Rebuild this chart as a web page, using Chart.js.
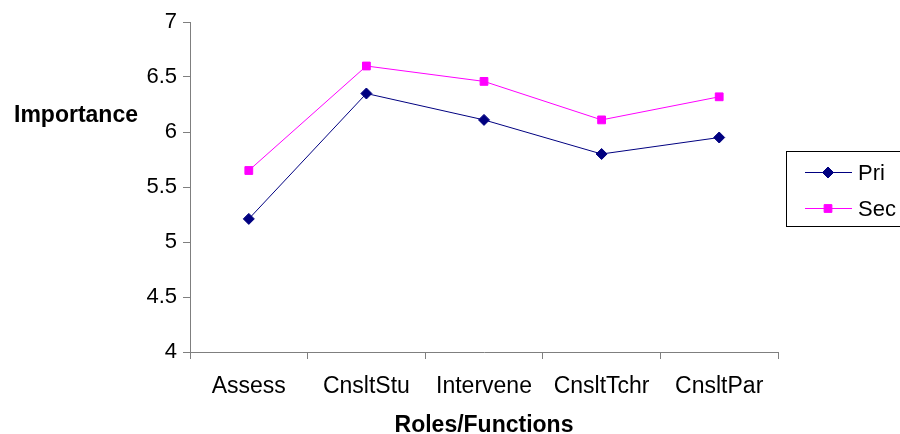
<!DOCTYPE html>
<html>
<head>
<meta charset="utf-8">
<script src="https://cdn.jsdelivr.net/npm/chart.js@4.4.1/dist/chart.umd.min.js"></script>
<style>
  html, body { margin: 0; padding: 0; background: #fff; }
  #wrap { width: 900px; height: 434px; }
</style>
</head>
<body>
<div id="wrap"><canvas id="roleChart" width="900" height="434"></canvas></div>
<script>
// Chart data
const categories = ['Assess', 'CnsltStu', 'Intervene', 'CnsltTchr', 'CnsltPar'];
const priValues = [5.21, 6.35, 6.11, 5.80, 5.95];
const secValues = [5.65, 6.60, 6.46, 6.11, 6.32];
const yTicks = [4, 4.5, 5, 5.5, 6, 6.5, 7];

const axisGray = '#7f7f7f';
const fontFamily = 'Arial, "Liberation Sans", sans-serif';

// Horizontal y-axis title drawn beside the axis
const sideTitle = {
    id: 'sideTitle',
    afterDraw(chart) {
        const ctx = chart.ctx;
        ctx.save();
        ctx.fillStyle = '#000';
        ctx.font = 'bold 23px ' + fontFamily;
        ctx.textAlign = 'center';
        ctx.textBaseline = 'middle';
        ctx.fillText('Importance', 76, 116);
        ctx.restore();
    }
};

// Boxed legend at the right edge
const boxLegend = {
    id: 'boxLegend',
    afterDraw(chart) {
        const ctx = chart.ctx;
        ctx.save();
        ctx.lineWidth = 1;
        ctx.strokeStyle = '#000';
        ctx.strokeRect(786.5, 151.5, 120, 75);
        chart.data.datasets.forEach((ds, i) => {
            const y = 172.5 + i * 36;
            ctx.strokeStyle = ds.borderColor;
            ctx.beginPath();
            ctx.moveTo(805, y);
            ctx.lineTo(852, y);
            ctx.stroke();
            ctx.fillStyle = ds.pointBackgroundColor;
            ctx.strokeStyle = ds.pointBorderColor;
            Chart.helpers.drawPoint(ctx, {
                pointStyle: ds.pointStyle,
                radius: ds.pointRadius,
                rotation: 0,
                borderWidth: 1
            }, 828, y);
            ctx.fillStyle = '#000';
            ctx.font = '22px ' + fontFamily;
            ctx.textAlign = 'left';
            ctx.textBaseline = 'middle';
            ctx.fillText(ds.label, 858, y + 1);
        });
        ctx.restore();
    }
};

new Chart(document.getElementById('roleChart'), {
    type: 'line',
    data: {
        labels: categories,
        datasets: [{
            label: 'Pri',
            data: priValues,
            borderColor: '#000080',
            backgroundColor: '#000080',
            pointBackgroundColor: '#000080',
            pointBorderColor: '#000080',
            borderWidth: 1,
            pointStyle: 'rectRot',
            pointRadius: 5.5,
            tension: 0
        }, {
            label: 'Sec',
            data: secValues,
            borderColor: '#ff00ff',
            backgroundColor: '#ff00ff',
            pointBackgroundColor: '#ff00ff',
            pointBorderColor: '#ff00ff',
            borderWidth: 1,
            pointStyle: 'rect',
            pointRadius: 5.5,
            tension: 0
        }]
    },
    options: {
        responsive: false,
        animation: false,
        layout: { padding: { left: 0, right: 122, top: 22, bottom: 0 } },
        plugins: {
            legend: { display: false },
            tooltip: { enabled: false },
            title: { display: false }
        },
        scales: {
            x: {
                offset: true,
                grid: {
                    offset: true,
                    drawOnChartArea: false,
                    tickLength: 7,
                    color: axisGray
                },
                border: { color: axisGray },
                ticks: {
                    color: '#000',
                    font: { family: fontFamily, size: 23 },
                    padding: 14,
                    maxRotation: 0
                },
                title: {
                    display: true,
                    text: 'Roles/Functions',
                    color: '#000',
                    font: { family: fontFamily, size: 23, weight: 'bold' },
                    padding: { top: 10, bottom: -5 }
                },
                afterFit(scale) { scale.height = 82; }
            },
            y: {
                min: yTicks[0],
                max: yTicks[yTicks.length - 1],
                afterBuildTicks(scale) {
                    scale.ticks = yTicks.map(v => ({ value: v }));
                },
                grid: {
                    drawOnChartArea: false,
                    tickLength: 7,
                    color: axisGray
                },
                border: { color: axisGray },
                ticks: {
                    color: '#000',
                    font: { family: fontFamily, size: 22 },
                    padding: 6,
                    callback: v => String(v)
                },
                afterFit(scale) { scale.width = 190; }
            }
        }
    },
    plugins: [sideTitle, boxLegend]
});
</script>
</body>
</html>
